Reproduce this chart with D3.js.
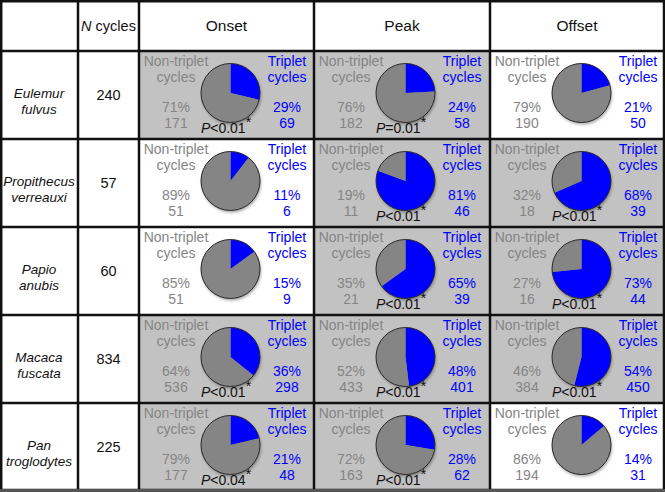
<!DOCTYPE html>
<html><head><meta charset="utf-8">
<script src="https://cdn.jsdelivr.net/npm/d3@7"></script>
<style>
html,body{margin:0;padding:0;background:#fff;}
svg{display:block;font-family:"Liberation Sans",Arial,sans-serif;}
</style></head>
<body>
<svg id="chart" width="665" height="492"></svg>
<script>
// ---- data ----
const speciesGenus = ["Eulemur","Propithecus","Papio","Macaca","Pan"];
const speciesEpithet = ["fulvus","verreauxi","anubis","fuscata","troglodytes"];
const nCycles = [240,57,60,834,225];
const phases = ["Onset","Peak","Offset"];
const tripletCount = [[69,6,9,298,48],[58,46,39,401,62],[50,39,44,450,31]];
const nonTripletCount = [[171,51,51,536,177],[182,11,21,433,163],[190,18,16,384,194]];
const tripletPct = [[29,11,15,36,21],[24,81,65,48,28],[21,68,73,54,14]];
const nonTripletPct = [[71,89,85,64,79],[76,19,35,52,72],[79,32,27,46,86]];
const pText = [["P<0.01","","","P<0.01","P<0.04"],["P=0.01","P<0.01","P<0.01","P<0.01","P<0.01"],["","P<0.01","P<0.01","P<0.01",""]];

// ---- layout ----
const svg = d3.select("#chart");
const colEdges = [0,78,139,314,490,664];
const rowEdges = [0,51,139,227,315,403,490];
const gray = "#858585", blue = "#0000ff", shade = "#c2c2c2";
const fs = 14;

const defs = svg.append("defs");
const f = defs.append("filter").attr("id","sh").attr("x","-30%").attr("y","-30%").attr("width","160%").attr("height","160%");
f.append("feDropShadow").attr("dx",1).attr("dy",2).attr("stdDeviation",1.5).attr("flood-color","#000").attr("flood-opacity",0.35);

// shaded cells
for (let p=0;p<3;p++){
  for (let r=0;r<5;r++){
    const x0=colEdges[p+2], x1=colEdges[p+3], y0=rowEdges[r+1], y1=rowEdges[r+2];
    if (pText[p][r]) svg.append("rect").attr("x",x0).attr("y",y0).attr("width",x1-x0).attr("height",y1-y0).attr("fill",shade);
  }
}

// header
const hdr = svg.append("g").attr("fill","#111").attr("text-anchor","middle");
const nt = hdr.append("text").attr("x",(colEdges[1]+colEdges[2])/2).attr("y",31).attr("font-size",14.5);
nt.append("tspan").attr("font-style","italic").text("N");
nt.append("tspan").text(" cycles");
phases.forEach((ph,i)=>{
  hdr.append("text").attr("x",(colEdges[i+2]+colEdges[i+3])/2).attr("y",31).attr("font-size",15.5).text(ph);
});

// species and N
for (let r=0;r<5;r++){
  const y0=rowEdges[r+1];
  const cx=(colEdges[0]+colEdges[1])/2;
  svg.append("text").attr("x",cx).attr("y",y0+47).attr("text-anchor","middle").attr("font-size",13.5).attr("font-style","italic").attr("fill","#111").text(speciesGenus[r]);
  svg.append("text").attr("x",cx).attr("y",y0+63).attr("text-anchor","middle").attr("font-size",13.5).attr("font-style","italic").attr("fill","#111").text(speciesEpithet[r]);
  svg.append("text").attr("x",(colEdges[1]+colEdges[2])/2).attr("y",y0+49).attr("text-anchor","middle").attr("font-size",14.5).attr("fill","#111").text(nCycles[r]);
}

// pies
const pie = d3.pie().sort(null).value(d=>d.v);
const arc = d3.arc().innerRadius(0).outerRadius(29.5);
for (let p=0;p<3;p++){
  for (let r=0;r<5;r++){
    const x0=colEdges[p+2], y0=rowEdges[r+1];
    const g = svg.append("g").attr("font-size",fs).attr("text-anchor","middle");
    const lx = x0+37, rx = x0+148;
    g.append("text").attr("x",lx).attr("y",y0+15).attr("fill",gray).text("Non-triplet");
    g.append("text").attr("x",lx).attr("y",y0+31).attr("fill",gray).text("cycles");
    g.append("text").attr("x",lx).attr("y",y0+61).attr("fill",gray).text(nonTripletPct[p][r]+"%");
    g.append("text").attr("x",lx).attr("y",y0+77).attr("fill",gray).text(nonTripletCount[p][r]);
    g.append("text").attr("x",rx).attr("y",y0+15).attr("fill",blue).text("Triplet");
    g.append("text").attr("x",rx).attr("y",y0+31).attr("fill",blue).text("cycles");
    g.append("text").attr("x",rx).attr("y",y0+61).attr("fill",blue).text(tripletPct[p][r]+"%");
    g.append("text").attr("x",rx).attr("y",y0+77).attr("fill",blue).text(tripletCount[p][r]);
    const pg = g.append("g").attr("transform",`translate(${x0+91.5},${y0+42})`);
    pg.append("circle").attr("r",29.5).attr("fill",gray).attr("filter","url(#sh)");
    pg.selectAll("path").data(pie([{v:tripletCount[p][r],c:blue},{v:nonTripletCount[p][r],c:gray}]))
      .join("path").attr("d",arc).attr("fill",d=>d.data.c).attr("stroke","none");
    pg.append("circle").attr("r",29.5).attr("fill","none").attr("stroke","#2a2a2a").attr("stroke-width",1);
    if (pText[p][r]){
      const t = g.append("text").attr("x",x0+87).attr("y",y0+82).attr("fill","#111").attr("font-size",14);
      t.append("tspan").attr("font-style","italic").text("P");
      t.append("tspan").text(pText[p][r].slice(1));
      t.append("tspan").attr("dy",-6).attr("font-size",14).text("*");
    }
  }
}

// grid lines
const lg = svg.append("g").attr("stroke","#111").attr("stroke-width",2.5);
colEdges.forEach(x=>{ lg.append("line").attr("x1",Math.max(x,1.2)).attr("x2",Math.max(x,1.2)).attr("y1",0).attr("y2",490); });
rowEdges.forEach(y=>{ lg.append("line").attr("x1",0).attr("x2",665).attr("y1",Math.max(y,1.2)).attr("y2",Math.max(y,1.2)); });
svg.append("rect").attr("x",0).attr("y",489).attr("width",665).attr("height",3).attr("fill","#555");
</script>
</body></html>
